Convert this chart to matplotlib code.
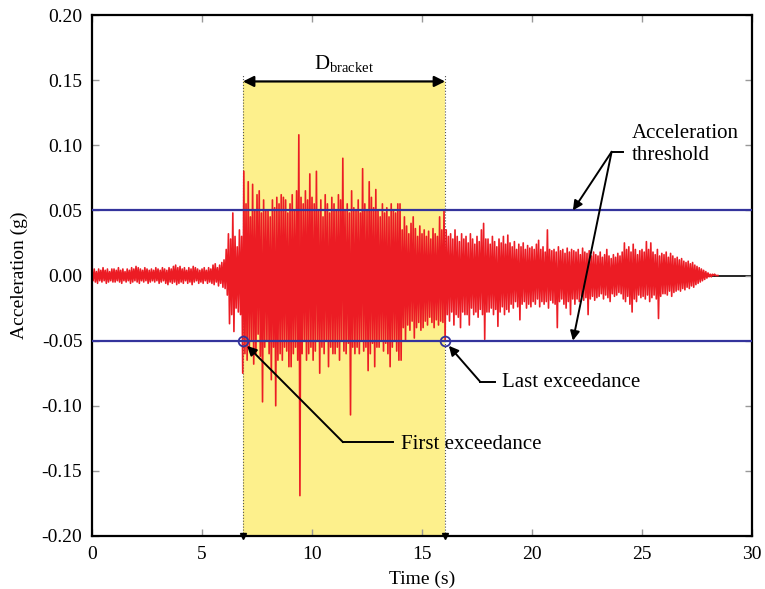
import numpy as np
import matplotlib
matplotlib.use('Agg')
import matplotlib.pyplot as plt
from matplotlib.ticker import FixedLocator

plt.rcParams['font.family'] = ['Liberation Serif', 'DejaVu Serif']
plt.rcParams['mathtext.fontset'] = 'custom'
plt.rcParams['mathtext.rm'] = 'Liberation Serif'
plt.rcParams['mathtext.it'] = 'Liberation Serif:italic'

# accelerogram: peak max / min acceleration (g) in 0.1 s bins, 0 - 28.5 s
dt = 0.1
acc_max = [
    0.004, 0.005, 0.003, 0.005, 0.004, 0.006, 0.004, 0.005, 0.003, 0.005,
    0.005, 0.004, 0.006, 0.004, 0.005, 0.003, 0.005, 0.004, 0.006, 0.005,
    0.007, 0.006, 0.005, 0.004, 0.006, 0.005, 0.004, 0.005, 0.004, 0.006,
    0.005, 0.004, 0.006, 0.005, 0.004, 0.006, 0.005, 0.007, 0.008, 0.006,
    0.007, 0.005, 0.006, 0.004, 0.006, 0.005, 0.007, 0.006, 0.005, 0.004,
    0.005, 0.006, 0.004, 0.006, 0.005, 0.008, 0.009, 0.006, 0.008, 0.010,
    0.012, 0.020, 0.032, 0.028, 0.048, 0.030, 0.022, 0.035, 0.030, 0.080,
    0.055, 0.072, 0.045, 0.070, 0.050, 0.062, 0.065, 0.048, 0.058, 0.050,
    0.050, 0.045, 0.058, 0.052, 0.060, 0.055, 0.062, 0.060, 0.058, 0.048,
    0.055, 0.062, 0.050, 0.065, 0.108, 0.060, 0.055, 0.065, 0.058, 0.078,
    0.060, 0.055, 0.080, 0.050, 0.058, 0.045, 0.062, 0.055, 0.048, 0.060,
    0.055, 0.050, 0.062, 0.058, 0.090, 0.050, 0.055, 0.048, 0.065, 0.052,
    0.050, 0.058, 0.048, 0.082, 0.055, 0.050, 0.072, 0.060, 0.052, 0.066,
    0.050, 0.045, 0.055, 0.048, 0.052, 0.045, 0.055, 0.050, 0.048, 0.055,
    0.055, 0.035, 0.045, 0.038, 0.032, 0.040, 0.045, 0.036, 0.030, 0.038,
    0.032, 0.035, 0.030, 0.034, 0.028, 0.036, 0.032, 0.030, 0.045, 0.035,
    0.050, 0.035, 0.030, 0.032, 0.028, 0.035, 0.030, 0.026, 0.032, 0.028,
    0.030, 0.025, 0.032, 0.028, 0.024, 0.030, 0.026, 0.035, 0.040, 0.028,
    0.028, 0.024, 0.030, 0.026, 0.022, 0.028, 0.025, 0.030, 0.024, 0.031,
    0.025, 0.022, 0.026, 0.020, 0.024, 0.022, 0.025, 0.020, 0.023, 0.021,
    0.022, 0.020, 0.024, 0.027, 0.020, 0.022, 0.018, 0.035, 0.020, 0.019,
    0.020, 0.018, 0.022, 0.019, 0.020, 0.017, 0.021, 0.018, 0.020, 0.019,
    0.018, 0.020, 0.016, 0.021, 0.018, 0.017, 0.019, 0.015, 0.018, 0.016,
    0.015, 0.018, 0.014, 0.016, 0.020, 0.015, 0.013, 0.016, 0.014, 0.017,
    0.015, 0.018, 0.025, 0.020, 0.022, 0.018, 0.024, 0.020, 0.016, 0.019,
    0.020, 0.018, 0.026, 0.020, 0.025, 0.018, 0.016, 0.020, 0.015, 0.017,
    0.016, 0.018, 0.014, 0.017, 0.015, 0.013, 0.014, 0.012, 0.013, 0.011,
    0.010, 0.011, 0.009, 0.010, 0.008, 0.007, 0.006, 0.005, 0.004, 0.003,
    0.002, 0.001, 0.001, 0.001, 0.000,
]
acc_min = [
    -0.004, -0.005, -0.006, -0.004, -0.005, -0.004, -0.006, -0.005, -0.004, -0.005,
    -0.005, -0.004, -0.005, -0.006, -0.004, -0.005, -0.004, -0.006, -0.005, -0.004,
    -0.005, -0.006, -0.004, -0.005, -0.004, -0.006, -0.005, -0.004, -0.005, -0.004,
    -0.006, -0.005, -0.004, -0.006, -0.007, -0.005, -0.006, -0.005, -0.007, -0.006,
    -0.005, -0.006, -0.004, -0.006, -0.005, -0.007, -0.005, -0.004, -0.006, -0.005,
    -0.006, -0.004, -0.006, -0.005, -0.006, -0.007, -0.005, -0.008, -0.006, -0.009,
    -0.010, -0.015, -0.037, -0.030, -0.043, -0.025, -0.028, -0.030, -0.075, -0.060,
    -0.065, -0.055, -0.050, -0.068, -0.060, -0.045, -0.062, -0.097, -0.055, -0.050,
    -0.060, -0.080, -0.055, -0.100, -0.065, -0.060, -0.065, -0.055, -0.058, -0.070,
    -0.070, -0.060, -0.055, -0.065, -0.169, -0.060, -0.050, -0.065, -0.060, -0.055,
    -0.065, -0.058, -0.050, -0.075, -0.055, -0.060, -0.050, -0.070, -0.055, -0.060,
    -0.060, -0.055, -0.065, -0.050, -0.058, -0.060, -0.052, -0.107, -0.055, -0.060,
    -0.055, -0.060, -0.050, -0.058, -0.055, -0.073, -0.060, -0.052, -0.070, -0.055,
    -0.055, -0.050, -0.058, -0.052, -0.060, -0.070, -0.055, -0.050, -0.058, -0.065,
    -0.065, -0.040, -0.050, -0.038, -0.042, -0.035, -0.048, -0.040, -0.036, -0.042,
    -0.040, -0.035, -0.038, -0.032, -0.036, -0.040, -0.034, -0.038, -0.035, -0.036,
    -0.050, -0.030, -0.035, -0.028, -0.038, -0.030, -0.032, -0.040, -0.028, -0.030,
    -0.030, -0.038, -0.025, -0.030, -0.028, -0.032, -0.026, -0.030, -0.049, -0.028,
    -0.028, -0.025, -0.030, -0.026, -0.039, -0.028, -0.024, -0.030, -0.026, -0.028,
    -0.022, -0.025, -0.020, -0.024, -0.034, -0.022, -0.020, -0.025, -0.022, -0.024,
    -0.020, -0.022, -0.018, -0.024, -0.020, -0.022, -0.020, -0.025, -0.019, -0.021,
    -0.022, -0.040, -0.020, -0.018, -0.022, -0.025, -0.020, -0.030, -0.018, -0.022,
    -0.018, -0.020, -0.016, -0.019, -0.017, -0.030, -0.018, -0.016, -0.019, -0.017,
    -0.016, -0.014, -0.018, -0.015, -0.017, -0.020, -0.014, -0.016, -0.015, -0.013,
    -0.014, -0.018, -0.020, -0.016, -0.022, -0.028, -0.018, -0.020, -0.015, -0.017,
    -0.016, -0.018, -0.015, -0.020, -0.017, -0.015, -0.018, -0.033, -0.016, -0.014,
    -0.014, -0.015, -0.012, -0.016, -0.013, -0.012, -0.011, -0.012, -0.010, -0.011,
    -0.009, -0.010, -0.008, -0.009, -0.007, -0.006, -0.005, -0.004, -0.003, -0.002,
    -0.001, -0.001, 0.000, 0.000, 0.000,
]

threshold = 0.05
t_first = 6.86
t_last = 16.05
bracket_top = 0.149

xticks = [0, 5, 10, 15, 20, 25, 30]
yticks = [-0.20, -0.15, -0.10, -0.05, 0.00, 0.05, 0.10, 0.15, 0.20]
ytick_labels = ['-0.20', '-0.15', '-0.10', '-0.05', '0.00', '0.05', '0.10', '0.15', '0.20']

red = '#ec1c24'
blue = '#34349c'
yellow = '#fdf08c'

n = len(acc_max)
t_bin = np.arange(n) * dt
t = np.empty(2 * n)
acc = np.empty(2 * n)
t[0::2] = t_bin
t[1::2] = t_bin + dt / 2
acc[0::2] = acc_max
acc[1::2] = acc_min

fig = plt.figure(figsize=(7.65, 5.89), dpi=100)
ax = fig.add_axes([0.1203, 0.090, 0.8627, 0.8845])

# bracketed duration
ax.fill_between([t_first, t_last], -0.2, bracket_top, color=yellow, lw=0, zorder=0)
for tb in [t_first, t_last]:
    ax.plot([tb, tb], [-0.2, bracket_top + 0.005], color='#555555', lw=0.8, ls=':', zorder=1)
    ax.plot([tb], [-0.2], marker='v', color='black', ms=5, clip_on=False, zorder=6)

ax.axhline(0, color='black', lw=1.2, zorder=1)
ax.plot(t, acc, color=red, lw=1.2, zorder=2)
ax.axhline(threshold, color=blue, lw=1.6, zorder=3)
ax.axhline(-threshold, color=blue, lw=1.6, zorder=3)
ax.plot([t_first, t_last], [-threshold, -threshold], 'o', mfc='none', mec=blue, mew=1.3, ms=7, zorder=4)

ax.annotate('', xy=(t_first, bracket_top), xytext=(t_last, bracket_top),
            arrowprops=dict(arrowstyle='<|-|>', color='black', lw=1.6, mutation_scale=16,
                            shrinkA=0, shrinkB=0))
ax.text((t_first + t_last) / 2, 0.163, r'D$_{\mathrm{bracket}}$', ha='center', va='center', fontsize=15)

arrow = dict(arrowstyle='-|>', color='black', lw=1.4, mutation_scale=14, shrinkA=0, shrinkB=0)

# first exceedance
ax.plot([11.41, 13.68], [-0.128, -0.128], color='black', lw=1.4)
ax.annotate('', xy=(7.05, -0.054), xytext=(11.41, -0.128), arrowprops=arrow)
ax.text(14.05, -0.1295, 'First exceedance', ha='left', va='center', fontsize=15)

# last exceedance
ax.plot([17.64, 18.32], [-0.0815, -0.0815], color='black', lw=1.4)
ax.annotate('', xy=(16.22, -0.054), xytext=(17.64, -0.0815), arrowprops=arrow)
ax.text(18.62, -0.0825, 'Last exceedance', ha='left', va='center', fontsize=15)

# acceleration threshold
ax.plot([23.62, 24.15], [0.095, 0.095], color='black', lw=1.4)
ax.annotate('', xy=(21.86, threshold), xytext=(23.62, 0.095), arrowprops=arrow)
ax.annotate('', xy=(21.86, -threshold), xytext=(23.62, 0.095), arrowprops=arrow)
ax.text(24.55, 0.1005, 'Acceleration\nthreshold', ha='left', va='center', fontsize=15, linespacing=1.25)

ax.set_xlim(0, 30)
ax.set_ylim(-0.2, 0.2)
ax.xaxis.set_major_locator(FixedLocator(xticks))
ax.set_xticklabels([str(v) for v in xticks])
ax.yaxis.set_major_locator(FixedLocator(yticks))
ax.set_yticklabels(ytick_labels)
ax.tick_params(direction='in', length=5, width=1, color='#999999', labelsize=14,
               top=True, right=True, pad=7)
for s in ax.spines.values():
    s.set_linewidth(1.6)
ax.set_xlabel('Time (s)', fontsize=14, labelpad=6)
ax.set_ylabel('Acceleration (g)', fontsize=14, labelpad=10)

fig.savefig('out.png', dpi=100)
